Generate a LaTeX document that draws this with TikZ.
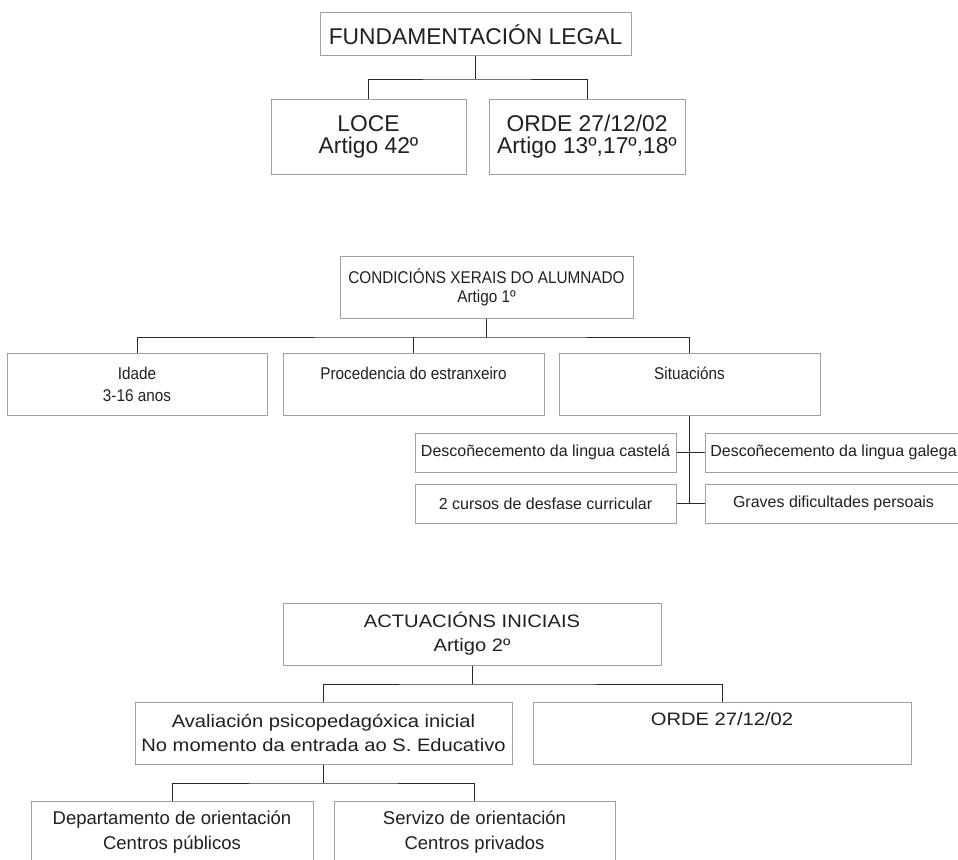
\documentclass[tikz,border=0pt]{standalone}
\usepackage{fontspec}
\setmainfont{Liberation Sans}
\newfontfamily\condfont[FakeStretch=0.9]{Liberation Sans}
\newfontfamily\widefont[FakeStretch=1.12]{Liberation Sans}
\newcommand\fsOne{\fontsize{22.8}{22}\selectfont}
\newcommand\fsCond{\condfont\fontsize{17}{19}\selectfont}
\newcommand\fsTwo{\condfont\fontsize{17}{22}\selectfont}
\newcommand\fsSub{\fontsize{16}{18}\selectfont}
\newcommand\fsWide{\widefont\fontsize{18}{24}\selectfont}
\newcommand\fsDept{\fontsize{18.5}{25}\selectfont}
\definecolor{boxgray}{HTML}{A0A0A0}
\definecolor{linec}{HTML}{2A2A2A}
\definecolor{textc}{HTML}{231F20}
\begin{document}
\begin{tikzpicture}[x=1pt,y=-1pt,
  box/.style={draw=boxgray, line width=1pt, inner sep=0pt, align=center, text=textc},
  conn/.style={draw=linec, line width=1pt}]
\clip (0,0) rectangle (958,859);
\fill[white] (0,0) rectangle (958,859);
% ---- Section 1
\node[box, minimum width=311pt, minimum height=43pt, font=\fsOne] (fund) at (475.5,34.5) {FUNDAMENTACIÓN LEGAL};
\node[box, minimum width=195pt, minimum height=75pt, font=\fsOne] (loce) at (368.5,136.5) {LOCE\\Artigo 42º};
\node[box, minimum width=196pt, minimum height=75pt, font=\fsOne] (ordeA) at (587,136.5) {ORDE 27/12/02\\Artigo 13º,17º,18º};
\coordinate (jA) at (476,79);
\draw[conn] (fund.south) -- (fund.south |- jA);
\draw[conn] (loce.north) |- (jA) -| (ordeA.north);
% ---- Section 2
\node[box, minimum width=293pt, minimum height=62pt, font=\fsCond] (cond) at (486.5,287) {CONDICIÓNS XERAIS DO ALUMNADO\\Artigo 1º};
\node[box, minimum width=260pt, minimum height=62pt, font=\fsTwo] (idade) at (137,384) {Idade\\3-16 anos};
\node[box, minimum width=261pt, minimum height=62pt, font=\fsTwo] (proc) at (413.5,384) {Procedencia do estranxeiro\\\phantom{3-16 anos}};
\node[box, minimum width=261pt, minimum height=62pt, font=\fsTwo] (sit) at (689.5,384) {Situacións\\\phantom{3-16 anos}};
\coordinate (jB) at (486.5,337);
\draw[conn] (cond.south) -- (jB);
\draw[conn] (idade.north) |- (jB) -| (sit.north);
\draw[conn] (proc.north) -- (proc.north |- jB);
\node[box, minimum width=261pt, minimum height=39pt, font=\fsSub] (cast) at (545.5,452.5) {Descoñecemento da lingua castelá};
\node[box, minimum width=257pt, minimum height=39pt, font=\fsSub] (gal) at (833.5,452.5) {Descoñecemento da lingua galega};
\node[box, minimum width=261pt, minimum height=39pt, font=\fsSub] (curs) at (545.5,503.5) {2 cursos de desfase curricular};
\node[box, minimum width=257pt, minimum height=39pt, font=\fsSub] (grav) at (833.5,503.5) {Graves dificultades persoais};
\draw[conn] (sit.south) -- (sit.south |- curs.east);
\draw[conn] (cast.east) -- (gal.west);
\draw[conn] (curs.east) -- (grav.west);
% ---- Section 3
\node[box, minimum width=378pt, minimum height=62pt, font=\fsWide] (act) at (472,634) {ACTUACIÓNS INICIAIS\\Artigo 2º};
\node[box, minimum width=377pt, minimum height=62pt, font=\fsWide] (aval) at (323.5,733) {Avaliación psicopedagóxica inicial\\No momento da entrada ao S. Educativo};
\node[box, minimum width=378pt, minimum height=62pt, font=\fsWide] (ordeB) at (722,733) {ORDE 27/12/02\\\phantom{Artigo}};
\coordinate (jC) at (472,684);
\draw[conn] (act.south) -- (jC);
\draw[conn] (aval.north) |- (jC) -| (ordeB.north);
\node[box, minimum width=282pt, minimum height=62pt, font=\fsDept] (dept) at (172,832) {Departamento de orientación\\Centros públicos};
\node[box, minimum width=281pt, minimum height=62pt, font=\fsDept] (serv) at (474.5,832) {Servizo de orientación\\Centros privados};
\coordinate (jD) at (323.5,783);
\draw[conn] (aval.south) -- (jD);
\draw[conn] (dept.north) |- (jD) -| (serv.north);
\end{tikzpicture}
\end{document}
